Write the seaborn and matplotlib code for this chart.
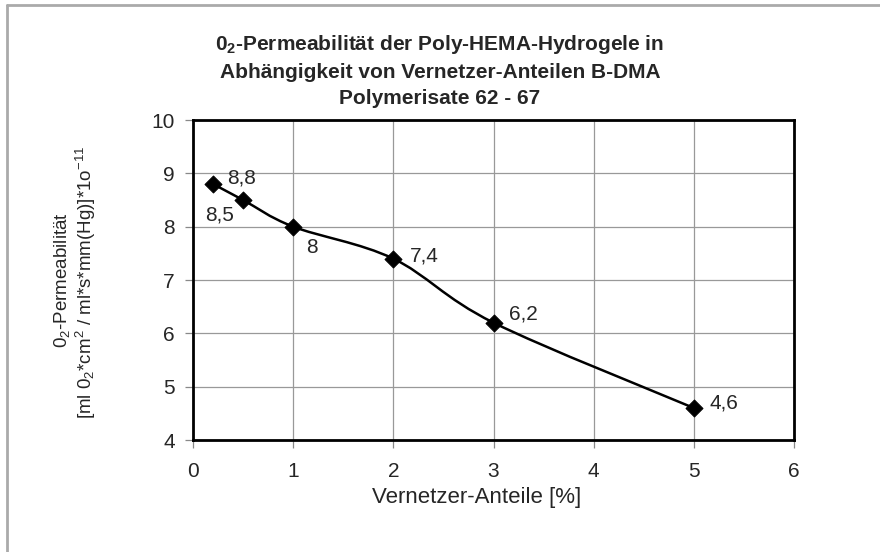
import numpy as np
import pandas as pd
import matplotlib
matplotlib.use("Agg")
import matplotlib.pyplot as plt
import seaborn as sns
from matplotlib.path import Path
from matplotlib.patches import PathPatch
from matplotlib.lines import Line2D

anteil = [0.2, 0.5, 1, 2, 3, 5]
permeab = [8.8, 8.5, 8.0, 7.4, 6.2, 4.6]
labels = ["8,8", "8,5", "8", "7,4", "6,2", "4,6"]
label_offsets = [(10, 4.3), (-27, -11), (9.4, -15), (12, 2), (11.5, 6.5), (11.5, 3.6)]

df = pd.DataFrame({"anteil": anteil, "permeab": permeab})

sns.set_theme(style="white")
plt.rcParams["font.family"] = ["Liberation Sans", "DejaVu Sans"]
plt.rcParams["mathtext.fontset"] = "custom"
plt.rcParams["mathtext.rm"] = "Liberation Sans"
plt.rcParams["mathtext.it"] = "Liberation Sans"
plt.rcParams["mathtext.bf"] = "Liberation Sans:bold"

fig = plt.figure(figsize=(8.8, 5.52), dpi=100)
ax = fig.add_axes([193 / 880, 1 - 440 / 552, (794 - 193) / 880, (440 - 120) / 552])

# smooth line like the spreadsheet "smoothed line" option
xs = np.array(anteil, dtype=float)
ys = np.array(permeab, dtype=float)
verts = [(xs[0], ys[0])]
codes = [Path.MOVETO]
n = len(xs)
for i in range(n - 1):
    p0 = (xs[i - 1], ys[i - 1]) if i > 0 else (xs[i], ys[i])
    p1 = (xs[i], ys[i])
    p2 = (xs[i + 1], ys[i + 1])
    p3 = (xs[i + 2], ys[i + 2]) if i + 2 < n else p2
    c1 = (p1[0] + (p2[0] - p0[0]) / 6, p1[1] + (p2[1] - p0[1]) / 6)
    c2 = (p2[0] - (p3[0] - p1[0]) / 6, p2[1] - (p3[1] - p1[1]) / 6)
    verts += [c1, c2, p2]
    codes += [Path.CURVE4] * 3
ax.add_patch(PathPatch(Path(verts, codes), facecolor="none", edgecolor="black", lw=1.8, zorder=3))

sns.scatterplot(data=df, x="anteil", y="permeab", marker="D", s=75, color="black",
                edgecolor="black", ax=ax, zorder=4, legend=False)

for x, y, t, off in zip(anteil, permeab, labels, label_offsets):
    ax.annotate(t, (x, y), xytext=off, textcoords="offset points", fontsize=15,
                va="center", ha="left", annotation_clip=False, zorder=5)

ax.set_xlim(0, 6)
ax.set_ylim(4, 10)
ax.set_xticks(range(0, 7))
ax.set_yticks(range(4, 11))
ax.grid(True, color="#999999", lw=0.9)
ax.set_axisbelow(True)
for s in ax.spines.values():
    s.set_color("black")
    s.set_linewidth(2)
ax.tick_params(axis="both", direction="out", length=6, width=0.9, color="#888888",
               labelsize=15, left=True, bottom=True)
ax.tick_params(axis="y", pad=7)
ax.tick_params(axis="x", pad=10)
ax.set_xlabel("Vernetzer-Anteile [%]", fontsize=16, va="center")
ax.xaxis.set_label_coords((477 - 193) / 601, -(498 - 440) / 320)
ax.set_ylabel("")

fig.text(62 / 880, 1 - 280 / 552, "0$_2$-Permeabilität", rotation=90,
         ha="center", va="center", fontsize=13.5)
fig.text(86 / 880, 1 - 282 / 552, "[ml 0$_2$*cm$^2$ / ml*s*mm(Hg)]*1o$^{-11}$", rotation=90,
         ha="center", va="center", fontsize=13.5)

fig.text(0.5, 1 - 45 / 552, "0$_\\mathbf{2}$-Permeabilität der Poly-HEMA-Hydrogele in",
         ha="center", va="center", fontsize=15, fontweight="bold")
fig.text(0.5, 1 - 73 / 552, "Abhängigkeit von Vernetzer-Anteilen B-DMA",
         ha="center", va="center", fontsize=15, fontweight="bold")
fig.text(0.5, 1 - 98 / 552, "Polymerisate 62 - 67",
         ha="center", va="center", fontsize=15, fontweight="bold")

# outer chart frame (left and top edges visible)
fig.add_artist(Line2D([7 / 880, 7 / 880], [0, 1 - 5 / 552], transform=fig.transFigure,
                      color="#aaaaaa", lw=2))
fig.add_artist(Line2D([7 / 880, 1], [1 - 5 / 552, 1 - 5 / 552], transform=fig.transFigure,
                      color="#aaaaaa", lw=2))

fig.savefig("out.png", dpi=100)
